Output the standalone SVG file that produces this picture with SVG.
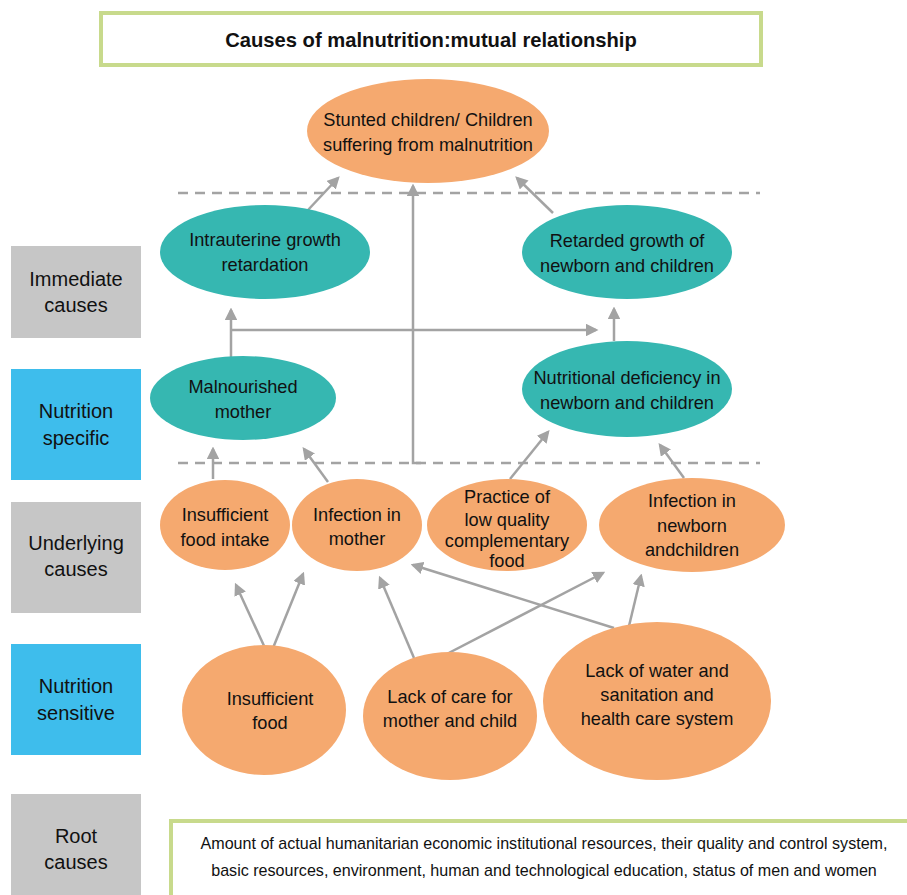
<svg xmlns="http://www.w3.org/2000/svg" width="907" height="895" viewBox="0 0 907 895">
<defs>
<style>
text{font-family:"Liberation Sans",Arial,sans-serif;fill:#111;text-anchor:middle}
.n{font-size:18.2px}
.l{font-size:20px}
.org{fill:#f5a96f}
.teal{fill:#36b7b1}
.gray{fill:#c6c6c6}
.blue{fill:#3ebdec}
.c line,.c path{stroke:#a3a3a3;stroke-width:2.5;fill:none}
.c .a{marker-end:url(#ah)}
.dash{stroke:#a8a8a8;stroke-width:2.5;stroke-dasharray:10 7;fill:none}
</style>
<marker id="ah" viewBox="0 0 10 10" refX="8" refY="5" markerWidth="5" markerHeight="5" orient="auto" markerUnits="strokeWidth">
<path d="M0,0 L10,5 L0,10 Z" fill="#a3a3a3"/>
</marker>
</defs>
<rect width="907" height="895" fill="#fff"/>

<g id="title">
<rect x="101" y="13" width="660" height="52" fill="#fff" stroke="#c8da8c" stroke-width="4"/>
<text x="431" y="47" style="font-size:20.2px;font-weight:bold">Causes of malnutrition:mutual relationship</text>
</g>

<g id="lbl-immediate"><rect class="gray" x="11" y="246" width="130" height="92"/><text class="l" x="76" y="286">Immediate</text><text class="l" x="76" y="312">causes</text></g>
<g id="lbl-specific"><rect class="blue" x="11" y="369" width="130" height="111"/><text class="l" x="76" y="418">Nutrition</text><text class="l" x="76" y="445">specific</text></g>
<g id="lbl-underlying"><rect class="gray" x="11" y="502" width="130" height="111"/><text class="l" x="76" y="550">Underlying</text><text class="l" x="76" y="576">causes</text></g>
<g id="lbl-sensitive"><rect class="blue" x="11" y="644" width="130" height="111"/><text class="l" x="76" y="693">Nutrition</text><text class="l" x="76" y="720">sensitive</text></g>
<g id="lbl-root"><rect class="gray" x="11" y="794" width="130" height="101"/><text class="l" x="76" y="843">Root</text><text class="l" x="76" y="869">causes</text></g>

<g class="c" id="connectors">
<line class="dash" x1="178" y1="193" x2="760" y2="193"/>
<line class="dash" x1="178" y1="463" x2="760" y2="463"/>
<line class="a" x1="308" y1="210" x2="338" y2="178"/>
<line class="a" x1="553" y1="213" x2="517" y2="178"/>
<path class="a" d="M421,463 H413 V186"/>
<line class="a" x1="231" y1="357" x2="231" y2="310"/>
<line class="a" x1="231" y1="330" x2="596" y2="330"/>
<line class="a" x1="614" y1="341" x2="614" y2="309"/>
<line class="a" x1="213" y1="479" x2="213" y2="449"/>
<line class="a" x1="328" y1="482" x2="304" y2="449"/>
<line class="a" x1="510" y1="479" x2="548" y2="432"/>
<line class="a" x1="684" y1="478" x2="660" y2="445"/>
<line class="a" x1="265" y1="648" x2="236" y2="585"/>
<line class="a" x1="273" y1="648" x2="303" y2="574"/>
<line class="a" x1="414" y1="658" x2="380" y2="578"/>
<line class="a" x1="441" y1="657" x2="603" y2="573"/>
<line class="a" x1="614" y1="628" x2="413" y2="565"/>
<line class="a" x1="629" y1="626" x2="641" y2="576"/>
</g>

<g id="stunted"><ellipse class="org" cx="428" cy="131" rx="121" ry="52"/><text class="n" x="428" y="126">Stunted children/ Children</text><text class="n" x="428" y="151">suffering from malnutrition</text></g>
<g id="intrauterine"><ellipse class="teal" cx="265" cy="252" rx="105" ry="47"/><text class="n" x="265" y="246">Intrauterine growth</text><text class="n" x="265" y="271">retardation</text></g>
<g id="retarded"><ellipse class="teal" cx="627" cy="252" rx="105" ry="47"/><text class="n" x="627" y="247">Retarded growth of</text><text class="n" x="627" y="272">newborn and children</text></g>
<g id="malnourished"><ellipse class="teal" cx="243" cy="398" rx="93" ry="42"/><text class="n" x="243" y="393">Malnourished</text><text class="n" x="243" y="418">mother</text></g>
<g id="deficiency"><ellipse class="teal" cx="627" cy="389" rx="105" ry="48"/><text class="n" x="627" y="384">Nutritional deficiency in</text><text class="n" x="627" y="409">newborn and children</text></g>
<g id="food-intake"><ellipse class="org" cx="225" cy="525" rx="65" ry="45"/><text class="n" x="225" y="521">Insufficient</text><text class="n" x="225" y="546">food intake</text></g>
<g id="infection-mother"><ellipse class="org" cx="357" cy="525" rx="65" ry="46"/><text class="n" x="357" y="521">Infection in</text><text class="n" x="357" y="545">mother</text></g>
<g id="practice"><ellipse class="org" cx="507" cy="525" rx="80" ry="46"/><text class="n" x="507" y="503">Practice of</text><text class="n" x="507" y="526">low quality</text><text class="n" x="507" y="547">complementary</text><text class="n" x="507" y="567">food</text></g>
<g id="infection-newborn"><ellipse class="org" cx="692" cy="525" rx="93" ry="47"/><text class="n" x="692" y="507">Infection in</text><text class="n" x="692" y="532">newborn</text><text class="n" x="692" y="556">andchildren</text></g>
<g id="insufficient-food"><ellipse class="org" cx="264" cy="710" rx="82" ry="65"/><text class="n" x="270" y="705">Insufficient</text><text class="n" x="270" y="729">food</text></g>
<g id="lack-care"><ellipse class="org" cx="450" cy="716" rx="87" ry="64"/><text class="n" x="450" y="703">Lack of care for</text><text class="n" x="450" y="727">mother and child</text></g>
<g id="lack-water"><ellipse class="org" cx="657" cy="701" rx="114" ry="79"/><text class="n" x="657" y="677">Lack of water and</text><text class="n" x="657" y="701">sanitation and</text><text class="n" x="657" y="725">health care system</text></g>

<g id="root-box">
<rect x="171" y="821" width="745" height="90" fill="#fff" stroke="#c8da8c" stroke-width="4"/>
<text x="544" y="849" style="font-size:16.1px">Amount of actual humanitarian economic institutional resources, their quality and control system,</text>
<text x="544" y="876" style="font-size:16.1px">basic resources, environment, human and technological education, status of men and women</text>
</g>
</svg>
